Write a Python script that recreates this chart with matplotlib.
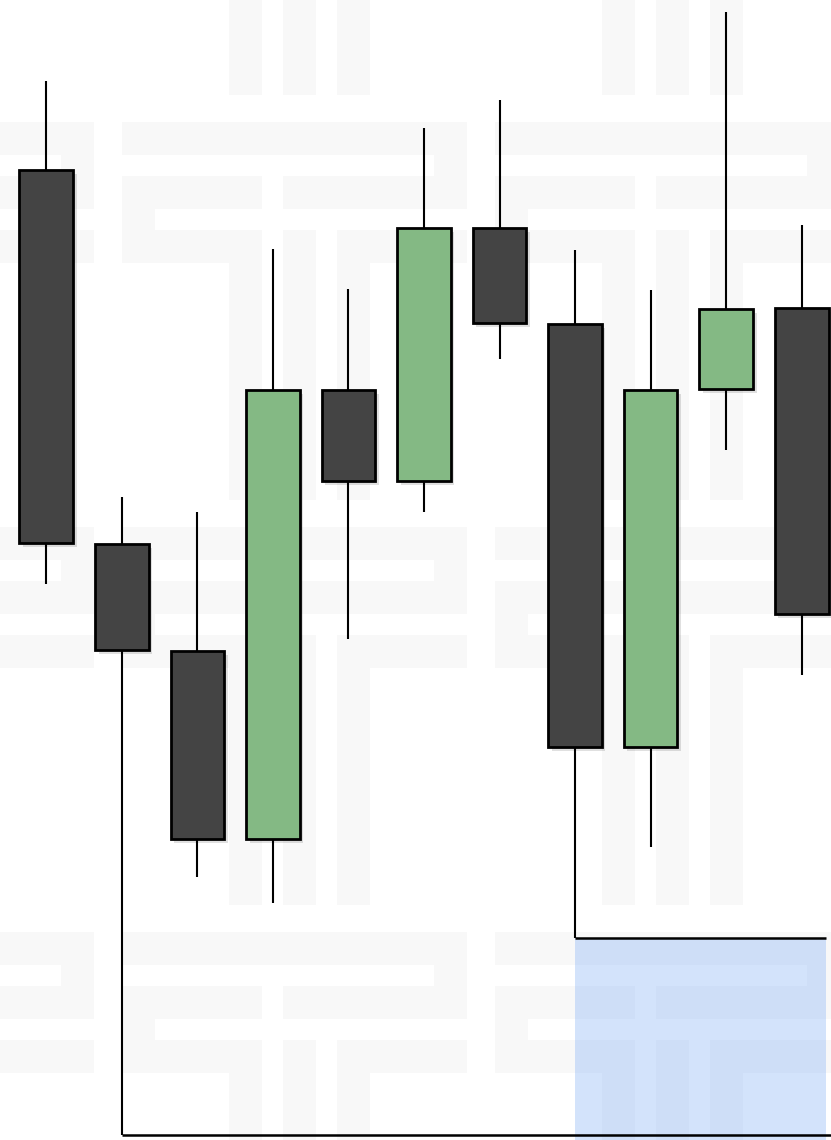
import matplotlib
matplotlib.use("Agg")
import matplotlib.pyplot as plt
from matplotlib.patches import Rectangle
import matplotlib.patheffects as pe

# ---------------- data (OHLC) ----------------
opens  = [197.0, 159.6, 148.9, 130.1, 175.0, 165.9, 191.2, 181.6, 139.3, 175.1, 183.2]
highs  = [205.9, 164.3, 162.8, 189.1, 185.1, 201.2, 204.0, 189.0, 185.0, 212.8, 191.5]
lows   = [155.6, 100.5, 126.3, 123.7, 150.1, 162.8, 178.1, 120.2, 129.3, 169.0, 146.5]
closes = [159.7, 149.0, 130.1, 175.0, 165.9, 191.2, 181.7, 139.3, 175.0, 183.1, 152.6]

support_full_idx = 1     # low level line running to the right edge
support_zone_idx = 7     # low level line with shaded zone below

UP_COLOR = "#84b984"
DOWN_COLOR = "#444444"
ZONE_COLOR = "#70a5f5"
PATTERN_COLOR = "#f8f8f8"

W, H = 831, 1140
fig = plt.figure(figsize=(W / 100, H / 100), dpi=100)
fig.patch.set_facecolor("white")

# ---------------- background lattice pattern ----------------
bg = fig.add_axes([0, 0, 1, 1], zorder=0)
bg.set_xlim(0, W)
bg.set_ylim(H, 0)
bg.axis("off")
tile = [(0, 0, 345, 33), (312, 33, 33, 21), (0, 54, 140, 33), (161, 54, 184, 33),
        (0, 87, 33, 21), (0, 108, 140, 33), (215, 108, 130, 33),
        (107, 141, 33, 237), (161, 108, 33, 270), (215, 141, 33, 237)]
TW, TH = 373, 405
for x0 in (122 - TW, 122, 122 + TW, 122 + 2 * TW):
    for y0 in (122 - TH, 122, 122 + TH, 122 + 2 * TH):
        for (dx, dy, w, h) in tile:
            bg.add_patch(Rectangle((x0 + dx, y0 + dy), w, h, facecolor=PATTERN_COLOR,
                                   edgecolor="none", lw=0))

# ---------------- candlestick axes ----------------
ax = fig.add_axes([0, 0, 1, 1], zorder=1)
ax.patch.set_alpha(0)
ax.axis("off")
n = len(opens)
ax.set_xlim(-0.613, 10.387)
ax.set_ylim(100, 214)

body_w = 0.71
shadow = [pe.SimplePatchShadow(offset=(2.5, -3), shadow_rgbFace="k", alpha=0.12), pe.Normal()]

for i in range(n):
    o, h, l, c = opens[i], highs[i], lows[i], closes[i]
    ax.vlines(i, l, h, color="black", lw=1.5, zorder=2)
    up = c >= o
    bottom = min(o, c)
    rect = Rectangle((i - body_w / 2, bottom), body_w, abs(c - o),
                     facecolor=UP_COLOR if up else DOWN_COLOR,
                     edgecolor="black", lw=2.0, zorder=3)
    rect.set_path_effects(shadow)
    ax.add_patch(rect)

# support levels
right_end = n - 1 + 0.32
ax.hlines(lows[support_full_idx], support_full_idx, 10.6, color="black", lw=1.8, zorder=4)
ax.fill_between([support_zone_idx, right_end], 100, lows[support_zone_idx],
                color=ZONE_COLOR, alpha=0.3, lw=0, zorder=1)
ax.hlines(lows[support_zone_idx], support_zone_idx, right_end, color="black", lw=1.8, zorder=4)

fig.savefig("out.png", dpi=100, facecolor="white")
